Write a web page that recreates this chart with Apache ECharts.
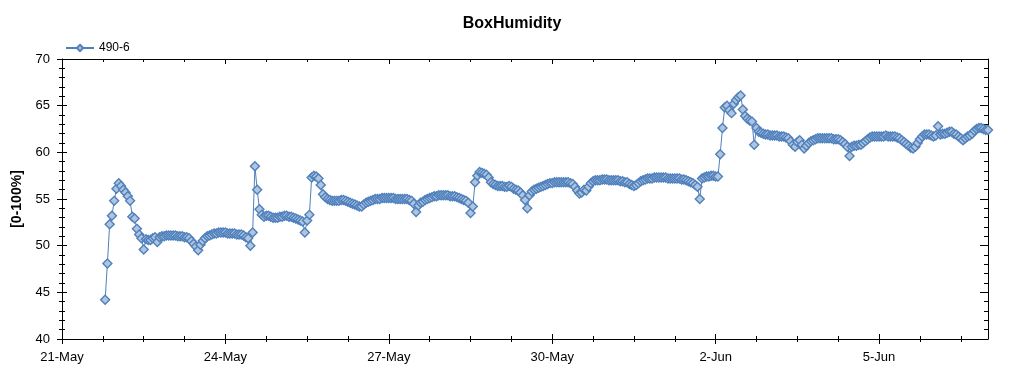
<!DOCTYPE html>
<html>
<head>
<meta charset="utf-8">
<script src="https://cdn.jsdelivr.net/npm/echarts@6/dist/echarts.min.js"></script>
<style>
html,body{margin:0;padding:0;background:#fff;}
#chart{width:1024px;height:375px;}
</style>
</head>
<body>
<div id="chart"></div>
<script>
// Hourly readings, first one at 21-May 19:00 (hours counted from 21-May 00:00)
const firstHour = 19;
const may21 = [44.2, 48.1, 52.3, 53.2, 54.8];
const may22 = [56.1, 56.7, 56.4, 56.0, 55.7, 55.3, 54.8, 53.1, 52.9, 51.8, 51.2, 50.8, 49.6, 50.7, 50.6, 50.6, 50.8, 50.9, 50.4, 50.9, 51.0, 51.0, 51.1, 51.1];
const may23 = [51.1, 51.1, 51.1, 51.0, 51.0, 51.0, 50.9, 50.9, 50.8, 50.5, 50.2, 49.9, 49.5, 50.1, 50.5, 50.8, 51.0, 51.1, 51.2, 51.3, 51.3, 51.4, 51.4, 51.4];
const may24 = [51.4, 51.3, 51.3, 51.3, 51.3, 51.2, 51.2, 51.2, 51.1, 50.9, 50.8, 50.0, 51.4, 58.5, 56.0, 53.9, 53.3, 53.1, 53.2, 53.2, 53.1, 53.0, 53.0, 53.0];
const may25 = [53.1, 53.1, 53.2, 53.2, 53.1, 53.1, 53.0, 52.9, 52.8, 52.7, 52.6, 51.4, 52.7, 53.3, 57.3, 57.5, 57.4, 57.2, 56.5, 55.5, 55.2, 55.0, 54.9, 54.8];
const may26 = [54.8, 54.8, 54.8, 54.9, 54.9, 54.8, 54.7, 54.6, 54.5, 54.4, 54.3, 54.2, 54.2, 54.4, 54.6, 54.7, 54.8, 54.9, 55.0, 55.0, 55.0, 55.1, 55.1, 55.1];
const may27 = [55.1, 55.1, 55.1, 55.0, 55.0, 55.0, 55.0, 55.0, 55.0, 54.9, 54.8, 54.5, 53.6, 54.3, 54.6, 54.7, 54.9, 55.0, 55.1, 55.2, 55.3, 55.3, 55.4, 55.4];
const may28 = [55.4, 55.4, 55.4, 55.3, 55.3, 55.3, 55.2, 55.1, 55.0, 54.9, 54.8, 54.6, 53.5, 54.2, 56.8, 57.5, 57.9, 57.8, 57.7, 57.6, 57.3, 56.8, 56.6, 56.5];
const may29 = [56.4, 56.4, 56.4, 56.3, 56.3, 56.4, 56.3, 56.1, 56.0, 55.9, 55.7, 55.4, 54.9, 54.0, 55.4, 55.8, 56.0, 56.1, 56.2, 56.3, 56.4, 56.5, 56.6, 56.7];
const may30 = [56.7, 56.8, 56.8, 56.8, 56.8, 56.8, 56.8, 56.8, 56.7, 56.6, 56.3, 55.9, 55.6, 55.7, 56.0, 55.9, 56.3, 56.7, 56.9, 57.0, 57.0, 57.0, 57.1, 57.1];
const may31 = [57.1, 57.0, 57.0, 57.0, 57.0, 57.0, 56.9, 56.9, 56.8, 56.8, 56.6, 56.5, 56.4, 56.5, 56.7, 56.9, 57.0, 57.1, 57.2, 57.2, 57.2, 57.3, 57.3, 57.3];
const jun1 = [57.3, 57.3, 57.3, 57.2, 57.2, 57.2, 57.2, 57.2, 57.2, 57.1, 57.1, 57.0, 56.9, 56.8, 56.7, 56.5, 56.3, 55.0, 57.2, 57.3, 57.4, 57.4, 57.5, 57.5];
const jun2 = [57.4, 57.4, 59.8, 62.6, 64.8, 65.0, 64.5, 64.2, 65.2, 65.6, 65.9, 66.1, 64.6, 63.9, 63.6, 63.4, 63.3, 60.8, 62.6, 62.2, 62.1, 62.0, 61.9, 61.9];
const jun3 = [61.8, 61.8, 61.8, 61.8, 61.7, 61.7, 61.7, 61.6, 61.5, 61.2, 60.8, 60.6, 61.1, 61.3, 60.8, 60.4, 60.7, 61.0, 61.2, 61.3, 61.4, 61.5, 61.5, 61.5];
const jun4 = [61.5, 61.5, 61.5, 61.5, 61.4, 61.4, 61.4, 61.3, 61.1, 60.9, 60.6, 59.6, 60.6, 60.7, 60.7, 60.8, 60.8, 61.0, 61.2, 61.4, 61.6, 61.7, 61.7, 61.7];
const jun5 = [61.7, 61.7, 61.7, 61.8, 61.7, 61.7, 61.7, 61.7, 61.6, 61.5, 61.3, 61.1, 60.9, 60.7, 60.5, 60.4, 60.6, 61.0, 61.4, 61.7, 61.9, 61.9, 61.9, 61.8];
const jun6 = [61.7, 61.8, 62.8, 61.9, 62.0, 62.0, 62.1, 62.2, 62.2, 62.0, 61.9, 61.7, 61.5, 61.3, 61.5, 61.7, 61.8, 62.0, 62.3, 62.5, 62.6, 62.6, 62.5, 62.4];
const jun7 = [62.4];

const seriesName = '490-6';
const tickHours = [0, 72, 144, 216, 288, 360];
const tickLabels = ['21-May', '24-May', '27-May', '30-May', '2-Jun', '5-Jun'];
const minorTickHours = [18, 36, 54, 90, 108, 126, 162, 180, 198, 234, 252, 270, 306, 324, 342, 378, 396];

const values = [].concat(may21, may22, may23, may24, may25, may26, may27, may28, may29, may30, may31, jun1, jun2, jun3, jun4, jun5, jun6, jun7);
const points = values.map((v, i) => [firstHour + i, v]);

const FONT = 'Liberation Sans, Arial, sans-serif';
const BLACK = '#000';

function xAx(opts) {
  return Object.assign({
    type: 'value', min: 0, max: 408, gridIndex: 0,
    splitLine: { show: false },
    axisLine: { show: false, onZero: false, lineStyle: { color: BLACK, width: 1 } },
    axisLabel: { show: false },
    axisTick: { show: true, inside: false, length: 5, customValues: tickHours, lineStyle: { color: BLACK, width: 1 } }
  }, opts);
}
function yAx(opts) {
  return Object.assign({
    type: 'value', min: 40, max: 70, interval: 5, gridIndex: 0,
    splitLine: { show: false },
    axisLine: { show: false, onZero: false, lineStyle: { color: BLACK, width: 1 } },
    axisLabel: { show: false },
    axisTick: { show: true, inside: false, length: 5, lineStyle: { color: BLACK, width: 1 } },
    minorTick: { show: true, splitNumber: 5, length: 3, lineStyle: { color: BLACK, width: 1 } }
  }, opts);
}

const chart = echarts.init(document.getElementById('chart'), null, { renderer: 'canvas' });
chart.setOption({
  animation: false,
  backgroundColor: '#fff',
  title: {
    text: 'BoxHumidity', left: 'center', top: 11,
    textStyle: { fontFamily: FONT, fontSize: 16, fontWeight: 'bold', color: BLACK }
  },
  legend: {
    data: [seriesName], left: 60, top: 37, itemWidth: 28, itemHeight: 8, itemGap: 10,
    textStyle: { fontFamily: FONT, fontSize: 12, color: BLACK }
  },
  grid: { left: 62, right: 36, top: 59, bottom: 36, containLabel: false },
  xAxis: [
    xAx({ position: 'bottom', axisLine: { show: true, onZero: false, lineStyle: { color: BLACK, width: 1 } },
      axisLabel: { show: true, customValues: tickHours, margin: 12, fontFamily: FONT, fontSize: 13, color: BLACK,
        formatter: v => tickLabels[tickHours.indexOf(v)] || '' } }),
    xAx({ position: 'bottom', axisTick: { show: true, inside: false, length: 3, customValues: minorTickHours, lineStyle: { color: BLACK } } }),
    xAx({ position: 'bottom', axisTick: { show: true, inside: true, length: 5, customValues: tickHours, lineStyle: { color: BLACK } } }),
    xAx({ position: 'bottom', axisTick: { show: true, inside: true, length: 3, customValues: minorTickHours, lineStyle: { color: BLACK } } }),
    xAx({ position: 'top', axisLine: { show: true, onZero: false, lineStyle: { color: BLACK, width: 1 } },
      axisTick: { show: true, inside: true, length: 5, customValues: tickHours, lineStyle: { color: BLACK } } }),
    xAx({ position: 'top', axisTick: { show: true, inside: true, length: 3, customValues: minorTickHours, lineStyle: { color: BLACK } } })
  ],
  yAxis: [
    yAx({ position: 'left', axisLine: { show: true, onZero: false, lineStyle: { color: BLACK, width: 1 } },
      axisLabel: { show: true, margin: 12, fontFamily: FONT, fontSize: 13, color: BLACK },
      name: '[0-100%]', nameLocation: 'middle', nameRotate: 90, nameGap: 37,
      nameTextStyle: { fontFamily: FONT, fontSize: 14, fontWeight: 'bold', color: BLACK } }),
    yAx({ position: 'left', axisTick: { show: true, inside: true, length: 5, lineStyle: { color: BLACK } } }),
    yAx({ position: 'right', axisLine: { show: true, onZero: false, lineStyle: { color: BLACK, width: 1 } },
      axisTick: { show: true, inside: true, length: 8, lineStyle: { color: BLACK } },
      minorTick: { show: true, splitNumber: 5, length: 4, lineStyle: { color: BLACK } } })
  ],
  series: [{
    name: seriesName,
    type: 'line',
    xAxisIndex: 0, yAxisIndex: 0,
    data: points,
    symbol: 'diamond',
    symbolSize: 9,
    showSymbol: true,
    showAllSymbol: true,
    clip: true,
    lineStyle: { color: '#4f81bd', width: 1 },
    itemStyle: { color: '#b0c4de', borderColor: '#4f81bd', borderWidth: 1.4 },
    emphasis: { disabled: true }
  }]
});
</script>
</body>
</html>
